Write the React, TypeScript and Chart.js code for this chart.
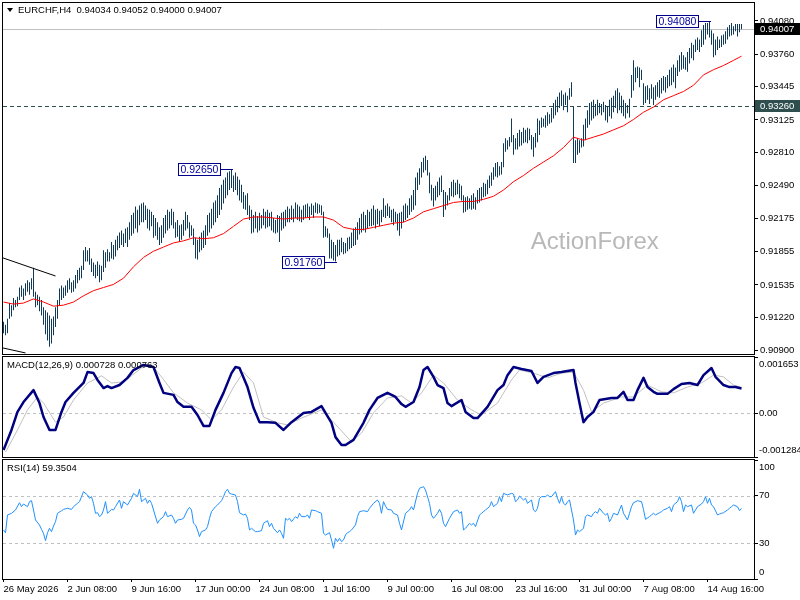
import React, { useEffect, useRef } from "react";
import { Chart, registerables } from "chart.js";

Chart.register(...registerables);

// ---------------- DATA ----------------
const HEADER_TEXT = "EURCHF,H4  0.94034 0.94052 0.94000 0.94007";
const MACD_TITLE = "MACD(12,26,9) 0.000728 0.000763";
const RSI_TITLE = "RSI(14) 59.3504";
const WATERMARK = "ActionForex";

// H4 bars, index 0 = 26 May 2026 00:00
const BAR_HIGHS = [
  0.9118, 0.9115, 0.9121, 0.9136, 0.9134, 0.9141, 0.9139, 0.9142, 0.9151, 0.9153,
  0.9150, 0.9155, 0.9158, 0.9156, 0.9160, 0.9170, 0.9147, 0.9144, 0.9142, 0.9139,
  0.9132, 0.9129, 0.9127, 0.9124, 0.9121, 0.9123, 0.9132, 0.9139, 0.9150, 0.9153,
  0.9151, 0.9153, 0.9158, 0.9160, 0.9156, 0.9158, 0.9163, 0.9168, 0.9170, 0.9172,
  0.9187, 0.9190, 0.9187, 0.9189, 0.9179, 0.9175, 0.9173, 0.9176, 0.9173, 0.9172,
  0.9187, 0.9185, 0.9188, 0.9185, 0.9195, 0.9192, 0.9197, 0.9201, 0.9204, 0.9206,
  0.9203, 0.9208, 0.9209, 0.9214, 0.9221, 0.9223, 0.9229, 0.9226, 0.9230, 0.9232,
  0.9233, 0.9230, 0.9227, 0.9226, 0.9224, 0.9221, 0.9218, 0.9214, 0.9209, 0.9211,
  0.9218, 0.9221, 0.9226, 0.9224, 0.9227, 0.9224, 0.9214, 0.9216, 0.9211, 0.9212,
  0.9216, 0.9224, 0.9221, 0.9214, 0.9211, 0.9208, 0.9199, 0.9197, 0.9200, 0.9204,
  0.9206, 0.9211, 0.9221, 0.9223, 0.9227, 0.9233, 0.9235, 0.9240, 0.9247, 0.9250,
  0.9255, 0.9257, 0.9262, 0.9263, 0.9265, 0.9259, 0.9262, 0.9258, 0.9255, 0.9250,
  0.9243, 0.9240, 0.9242, 0.9230, 0.9226, 0.9221, 0.9224, 0.9220, 0.9223, 0.9221,
  0.9227, 0.9224, 0.9226, 0.9223, 0.9224, 0.9218, 0.9216, 0.9221, 0.9220, 0.9223,
  0.9224, 0.9226, 0.9229, 0.9227, 0.9230, 0.9227, 0.9233, 0.9231, 0.9229, 0.9226,
  0.9230, 0.9231, 0.9232, 0.9229, 0.9232, 0.9230, 0.9233, 0.9232, 0.9231, 0.9230,
  0.9224, 0.9210, 0.9208, 0.9203, 0.9197, 0.9195, 0.9192, 0.9197, 0.9197, 0.9199,
  0.9195, 0.9194, 0.9199, 0.9200, 0.9204, 0.9208, 0.9209, 0.9214, 0.9218, 0.9222,
  0.9224, 0.9221, 0.9226, 0.9224, 0.9227, 0.9230, 0.9226, 0.9227, 0.9225, 0.9226,
  0.9237, 0.9230, 0.9232, 0.9229, 0.9226, 0.9227, 0.9224, 0.9222, 0.9223, 0.9224,
  0.9230, 0.9232, 0.9230, 0.9237, 0.9240, 0.9245, 0.9257, 0.9262, 0.9266, 0.9272,
  0.9276, 0.9278, 0.9274, 0.9262, 0.9250, 0.9247, 0.9249, 0.9253, 0.9257, 0.9259,
  0.9245, 0.9243, 0.9240, 0.9247, 0.9253, 0.9255, 0.9252, 0.9255, 0.9251, 0.9249,
  0.9240, 0.9238, 0.9239, 0.9237, 0.9240, 0.9242, 0.9238, 0.9245, 0.9247, 0.9248,
  0.9252, 0.9251, 0.9255, 0.9259, 0.9262, 0.9267, 0.9271, 0.9272, 0.9268, 0.9272,
  0.9290, 0.9295, 0.9293, 0.9296, 0.9314, 0.9298, 0.9295, 0.9300, 0.9303, 0.9301,
  0.9305, 0.9303, 0.9305, 0.9304, 0.9298, 0.9296, 0.9300, 0.9314, 0.9312, 0.9315,
  0.9314, 0.9317, 0.9320, 0.9318, 0.9324, 0.9329, 0.9332, 0.9335, 0.9339, 0.9341,
  0.9337, 0.9339, 0.9336, 0.9343, 0.9349, 0.9325, 0.9293, 0.9295, 0.9293, 0.9295,
  0.9308, 0.9314, 0.9322, 0.9329, 0.9330, 0.9332, 0.9328, 0.9332, 0.9329, 0.9328,
  0.9330, 0.9327, 0.9326, 0.9332, 0.9334, 0.9336, 0.9341, 0.9343, 0.9339, 0.9336,
  0.9332, 0.9329, 0.9327, 0.9333, 0.9356, 0.9370, 0.9363, 0.9364, 0.9363, 0.9361,
  0.9348, 0.9345, 0.9346, 0.9343, 0.9347, 0.9344, 0.9346, 0.9349, 0.9351, 0.9353,
  0.9355, 0.9354, 0.9356, 0.9361, 0.9363, 0.9366, 0.9363, 0.9370, 0.9375, 0.9378,
  0.9375, 0.9373, 0.9378, 0.9382, 0.9387, 0.9385, 0.9390, 0.9392, 0.9390, 0.9399,
  0.9404, 0.9406, 0.9406, 0.9408, 0.9399, 0.9396, 0.9390, 0.9393, 0.9390, 0.9394,
  0.9395, 0.9398, 0.9402, 0.9404, 0.9406, 0.9403, 0.9405, 0.9405, 0.9405, 0.9405,
];

const BAR_LOWS = [
  0.9107, 0.9105, 0.9107, 0.9121, 0.9123, 0.9129, 0.9132, 0.9133, 0.9139, 0.9142,
  0.9139, 0.9143, 0.9147, 0.9144, 0.9149, 0.9142, 0.9132, 0.9134, 0.9128, 0.9124,
  0.9115, 0.9106, 0.9100, 0.9094, 0.9097, 0.9105, 0.9113, 0.9121, 0.9134, 0.9139,
  0.9141, 0.9143, 0.9146, 0.9149, 0.9146, 0.9147, 0.9150, 0.9155, 0.9158, 0.9160,
  0.9168, 0.9176, 0.9176, 0.9173, 0.9166, 0.9162, 0.9160, 0.9162, 0.9156, 0.9158,
  0.9166, 0.9170, 0.9176, 0.9176, 0.9179, 0.9178, 0.9181, 0.9187, 0.9189, 0.9192,
  0.9190, 0.9194, 0.9190, 0.9197, 0.9201, 0.9203, 0.9208, 0.9204, 0.9211, 0.9214,
  0.9214, 0.9216, 0.9208, 0.9206, 0.9210, 0.9199, 0.9201, 0.9197, 0.9192, 0.9194,
  0.9199, 0.9203, 0.9206, 0.9208, 0.9211, 0.9208, 0.9199, 0.9200, 0.9195, 0.9197,
  0.9201, 0.9206, 0.9208, 0.9199, 0.9201, 0.9192, 0.9179, 0.9178, 0.9185, 0.9187,
  0.9189, 0.9192, 0.9201, 0.9204, 0.9208, 0.9211, 0.9214, 0.9218, 0.9221, 0.9226,
  0.9232, 0.9237, 0.9240, 0.9245, 0.9247, 0.9243, 0.9245, 0.9240, 0.9235, 0.9233,
  0.9227, 0.9226, 0.9221, 0.9216, 0.9203, 0.9204, 0.9208, 0.9204, 0.9206, 0.9208,
  0.9211, 0.9208, 0.9209, 0.9210, 0.9206, 0.9204, 0.9203, 0.9204, 0.9195, 0.9206,
  0.9208, 0.9210, 0.9214, 0.9214, 0.9216, 0.9214, 0.9218, 0.9216, 0.9215, 0.9214,
  0.9216, 0.9218, 0.9219, 0.9216, 0.9221, 0.9218, 0.9223, 0.9222, 0.9223, 0.9221,
  0.9199, 0.9200, 0.9199, 0.9179, 0.9179, 0.9177, 0.9176, 0.9181, 0.9182, 0.9185,
  0.9183, 0.9184, 0.9186, 0.9188, 0.9189, 0.9191, 0.9192, 0.9197, 0.9202, 0.9204,
  0.9206, 0.9204, 0.9208, 0.9210, 0.9210, 0.9211, 0.9208, 0.9212, 0.9210, 0.9214,
  0.9219, 0.9218, 0.9220, 0.9218, 0.9214, 0.9211, 0.9214, 0.9206, 0.9201, 0.9208,
  0.9214, 0.9216, 0.9218, 0.9221, 0.9224, 0.9226, 0.9230, 0.9245, 0.9250, 0.9257,
  0.9262, 0.9264, 0.9259, 0.9242, 0.9235, 0.9229, 0.9235, 0.9238, 0.9240, 0.9243,
  0.9219, 0.9226, 0.9230, 0.9235, 0.9239, 0.9238, 0.9240, 0.9241, 0.9237, 0.9235,
  0.9223, 0.9224, 0.9226, 0.9227, 0.9226, 0.9227, 0.9226, 0.9232, 0.9233, 0.9235,
  0.9238, 0.9239, 0.9241, 0.9247, 0.9249, 0.9255, 0.9258, 0.9257, 0.9259, 0.9260,
  0.9267, 0.9282, 0.9284, 0.9287, 0.9291, 0.9279, 0.9284, 0.9284, 0.9287, 0.9288,
  0.9290, 0.9291, 0.9290, 0.9293, 0.9284, 0.9277, 0.9286, 0.9291, 0.9298, 0.9305,
  0.9306, 0.9305, 0.9307, 0.9309, 0.9310, 0.9314, 0.9317, 0.9320, 0.9324, 0.9326,
  0.9322, 0.9327, 0.9320, 0.9332, 0.9335, 0.9271, 0.9271, 0.9279, 0.9281, 0.9286,
  0.9287, 0.9293, 0.9305, 0.9308, 0.9312, 0.9314, 0.9316, 0.9317, 0.9319, 0.9317,
  0.9320, 0.9312, 0.9310, 0.9316, 0.9314, 0.9320, 0.9324, 0.9319, 0.9322, 0.9319,
  0.9316, 0.9314, 0.9319, 0.9315, 0.9334, 0.9341, 0.9349, 0.9353, 0.9344, 0.9351,
  0.9327, 0.9329, 0.9332, 0.9328, 0.9333, 0.9327, 0.9332, 0.9335, 0.9334, 0.9338,
  0.9341, 0.9339, 0.9343, 0.9345, 0.9346, 0.9349, 0.9343, 0.9355, 0.9359, 0.9361,
  0.9362, 0.9361, 0.9359, 0.9367, 0.9372, 0.9370, 0.9378, 0.9380, 0.9378, 0.9383,
  0.9385, 0.9390, 0.9395, 0.9392, 0.9385, 0.9373, 0.9375, 0.9380, 0.9382, 0.9383,
  0.9385, 0.9386, 0.9390, 0.9393, 0.9394, 0.9395, 0.9398, 0.9393, 0.9397, 0.9400,
];

// Red moving average, sampled along the bars
const SMA_BARS = [
  0, 5, 10, 15, 20, 25, 30, 35, 40, 45, 50, 55, 60, 65, 70, 75, 80, 85, 90, 95,
  100, 105, 110, 115, 120, 125, 130, 135, 140, 145, 150, 155, 160, 165, 170, 175, 180, 185, 190, 195,
  200, 205, 210, 215, 220, 225, 230, 235, 240, 245, 250, 255, 260, 265, 270, 275, 280, 285, 290, 295,
  300, 305, 310, 315, 320, 325, 330, 335, 340, 345, 350, 355, 360, 365, 369,
];
const SMA_VALUES = [
  0.9137, 0.9135, 0.9136, 0.9140, 0.9137, 0.9133, 0.9134, 0.9137, 0.9143, 0.9148,
  0.9151, 0.9154, 0.9160, 0.9171, 0.9180, 0.9186, 0.9190, 0.9194, 0.9196, 0.9199,
  0.9198, 0.9199, 0.9203, 0.9210, 0.9217, 0.9219, 0.9219, 0.9218, 0.9217, 0.9218,
  0.9218, 0.9219, 0.9219, 0.9216, 0.9209, 0.9207, 0.9207, 0.9209, 0.9211, 0.9213,
  0.9214, 0.9218, 0.9224, 0.9227, 0.9230, 0.9233, 0.9234, 0.9234, 0.9236, 0.9239,
  0.9245, 0.9253, 0.9259, 0.9266, 0.9272, 0.9278, 0.9286, 0.9296, 0.9293, 0.9296,
  0.9299, 0.9303, 0.9307, 0.9313, 0.9320, 0.9325, 0.9332, 0.9336, 0.9340, 0.9346,
  0.9356, 0.9361, 0.9365, 0.9370, 0.9374,
];

const MACD_BARS = [
  0, 4, 7, 10, 15, 18, 20, 23, 26, 29, 31, 35, 40, 42, 45, 47, 50, 52, 54, 58,
  62, 65, 70, 75, 78, 80, 85, 87, 90, 94, 97, 100, 103, 106, 110, 114, 116, 118, 122, 125,
  128, 132, 136, 140, 144, 150, 154, 159, 161, 164, 166, 169, 171, 175, 180, 183, 187, 192, 196, 199,
  201, 205, 208, 210, 212, 215, 217, 220, 222, 224, 229, 231, 235, 237, 242, 247, 250, 252, 255, 259,
  264, 267, 270, 275, 279, 285, 286, 288, 290, 292, 295, 298, 304, 307, 310, 312, 315, 317, 320, 322,
  325, 327, 332, 335, 339, 343, 347, 350, 354, 356, 360, 363, 366, 369,
];
const MACD_VALUES = [
  -0.00108, -0.00049, 0.00004, 0.00033, 0.00068, 0.0003, -0.00011, -0.00049, -0.00049, 0.00004,
  0.00033, 0.0006, 0.00089, 0.00121, 0.00118, 0.00098, 0.00074, 0.0008, 0.00074, 0.00083,
  0.00104, 0.00127, 0.00142, 0.00136, 0.00089, 0.0006, 0.00054, 0.00033, 0.00019, 0.00019,
  -0.00005, -0.00037, -0.00037, 0.0001, 0.0006, 0.00118, 0.00136, 0.00133, 0.00077, 0.00016,
  -0.00026, -0.00026, -0.00028, -0.00049, -0.00026, 0.00001, 0.00004, 0.00021, 0.00001, -0.00028,
  -0.0007, -0.00093, -0.00093, -0.00078, -0.00028, 0.0001, 0.00045, 0.0006, 0.00048, 0.00027,
  0.00019, 0.00033, 0.00077, 0.00127, 0.00136, 0.00107, 0.00083, 0.00074, 0.0003, 0.00021,
  0.00039, 0.00004, -0.00014, -0.00014, 0.00019, 0.00068, 0.00083, 0.00112, 0.00136, 0.0013,
  0.00124, 0.00089, 0.00107, 0.00118, 0.00121, 0.00127, 0.00089, 0.0003, -0.00026, -0.00011,
  0.00004, 0.00039, 0.00045, 0.00045, 0.00063, 0.00039, 0.00039, 0.00068, 0.00104, 0.00077,
  0.00063, 0.00057, 0.00057, 0.00071, 0.00086, 0.00089, 0.00083, 0.00112, 0.00133, 0.00107,
  0.00083, 0.00077, 0.00077, 0.000728,
];

const SIGNAL_BARS = [
  1, 7, 12, 17, 20, 26, 30, 35, 42, 49, 54, 60, 69, 74, 79, 85, 92, 99, 104, 109,
  115, 120, 125, 130, 137, 142, 149, 159, 165, 174, 179, 185, 192, 199, 204, 209, 215, 220, 227, 234,
  239, 247, 254, 258, 265, 272, 279, 285, 290, 294, 300, 309, 315, 322, 329, 335, 342, 349, 355, 360,
  365, 369,
];
const SIGNAL_VALUES = [
  -0.00114, -0.00049, 0.0001, 0.00048, 0.0003, -0.00026, -0.00011, 0.00039, 0.00089, 0.0011,
  0.00089, 0.00092, 0.00133, 0.00142, 0.00107, 0.0006, 0.0003, 0.0001, -0.0002, 0.0001,
  0.00077, 0.00121, 0.00089, -0.00011, -0.00028, -0.00034, -0.00014, 0.0001, -0.00026, -0.00084,
  -0.00058, 0.00001, 0.00045, 0.00051, 0.0003, 0.0006, 0.00112, 0.00089, 0.00039, 0.0001,
  -0.00005, 0.0003, 0.00098, 0.00127, 0.00118, 0.00104, 0.00118, 0.00121, 0.00068, 0.00004,
  0.0003, 0.00048, 0.00048, 0.00083, 0.00063, 0.0006, 0.00077, 0.00089, 0.00112, 0.00107,
  0.00083, 0.000763,
];

const RSI_BARS = [
  0, 1, 2, 4, 6, 8, 9, 10, 12, 13, 14, 15, 16, 18, 19, 20, 21, 22, 23, 24,
  25, 26, 27, 29, 30, 32, 34, 35, 37, 38, 39, 40, 42, 43, 44, 45, 46, 47, 48, 49,
  50, 51, 52, 54, 55, 56, 58, 59, 60, 62, 64, 65, 67, 68, 69, 71, 72, 73, 74, 75,
  77, 78, 80, 81, 82, 84, 85, 86, 87, 89, 90, 92, 93, 94, 95, 96, 97, 98, 99, 101,
  102, 103, 104, 106, 107, 109, 110, 111, 112, 113, 114, 116, 117, 118, 120, 121, 122, 123, 124, 126,
  127, 129, 130, 132, 133, 134, 135, 137, 138, 139, 140, 141, 142, 143, 144, 146, 147, 148, 149, 151,
  152, 153, 154, 156, 157, 159, 160, 161, 163, 164, 165, 166, 167, 168, 169, 170, 171, 172, 173, 174,
  176, 177, 178, 180, 182, 183, 185, 187, 188, 189, 190, 191, 192, 194, 195, 197, 198, 199, 201, 203,
  204, 205, 207, 208, 210, 211, 213, 214, 215, 217, 218, 219, 220, 221, 223, 224, 225, 227, 228, 229,
  230, 231, 233, 234, 235, 236, 238, 239, 241, 243, 244, 245, 247, 248, 249, 250, 252, 254, 255, 256,
  257, 258, 260, 261, 262, 264, 265, 266, 267, 268, 269, 271, 272, 273, 274, 276, 277, 278, 279, 280,
  281, 282, 283, 284, 285, 286, 287, 288, 290, 291, 292, 294, 295, 296, 297, 298, 300, 301, 302, 303,
  304, 305, 307, 308, 309, 310, 312, 313, 314, 315, 317, 319, 320, 321, 323, 324, 325, 326, 328, 329,
  330, 332, 333, 334, 335, 337, 338, 339, 340, 341, 342, 344, 345, 346, 347, 349, 350, 351, 352, 353,
  354, 355, 357, 358, 359, 360, 362, 363, 364, 365, 367, 368, 369,
];
const RSI_VALUES = [
  41.2, 38.9, 53.8, 55.2, 58.0, 64.1, 60.8, 63.0, 60.8, 65.0, 65.8, 58.0, 49.6, 45.4, 41.7, 38.4, 32.2, 38.9, 42.6, 39.8,
  44.5, 48.2, 55.2, 57.4, 58.5, 59.4, 58.5, 60.8, 63.6, 65.0, 69.2, 73.4, 70.6, 67.8, 69.2, 63.6, 55.2, 55.7, 52.4, 53.8,
  58.0, 65.0, 55.2, 58.5, 58.0, 60.8, 66.4, 59.4, 65.0, 62.2, 67.8, 72.0, 69.2, 75.4, 65.0, 67.8, 63.6, 66.4, 63.6, 58.0,
  46.8, 49.6, 52.4, 56.6, 52.4, 53.8, 51.0, 46.8, 49.6, 50.1, 51.0, 58.0, 60.2, 58.0, 46.8, 45.4, 41.2, 35.6, 39.8, 41.2,
  44.0, 51.0, 56.6, 60.8, 62.2, 65.8, 69.2, 73.4, 75.4, 72.0, 71.4, 70.6, 65.0, 55.7, 53.8, 54.6, 51.0, 41.2, 42.6, 39.8,
  39.8, 40.6, 46.8, 49.0, 44.0, 46.8, 42.6, 38.9, 41.2, 38.4, 34.2, 51.0, 49.6, 51.0, 48.2, 52.4, 51.0, 55.2, 52.4, 52.4,
  53.8, 51.0, 58.0, 57.4, 56.6, 55.2, 38.4, 37.0, 38.9, 32.8, 25.8, 34.2, 31.4, 34.2, 31.4, 32.8, 37.0, 38.9, 39.8, 41.2,
  45.4, 52.4, 56.6, 57.4, 56.6, 59.4, 63.6, 66.4, 63.6, 55.2, 65.0, 61.3, 58.5, 58.0, 55.2, 53.8, 46.8, 41.2, 55.2, 58.0,
  60.8, 58.0, 72.0, 76.2, 77.6, 74.8, 63.6, 53.8, 51.0, 55.2, 58.5, 55.2, 46.8, 44.0, 51.0, 53.8, 56.6, 58.0, 55.2, 56.6,
  41.2, 42.6, 46.8, 45.4, 46.8, 44.0, 53.8, 55.2, 58.0, 60.8, 65.0, 60.8, 63.6, 69.2, 65.0, 72.0, 70.6, 72.0, 71.4, 65.0,
  66.4, 69.7, 66.4, 67.8, 63.6, 66.4, 58.0, 56.6, 59.4, 67.8, 69.2, 69.2, 70.6, 69.2, 69.2, 73.4, 67.8, 63.6, 69.2, 63.6,
  62.2, 65.0, 66.4, 58.0, 49.6, 37.0, 41.2, 39.8, 42.6, 52.4, 53.8, 52.4, 55.2, 56.6, 55.2, 59.4, 55.2, 53.8, 55.2, 48.2,
  51.0, 55.2, 53.8, 58.0, 62.2, 55.2, 49.6, 55.2, 60.8, 64.1, 65.8, 65.0, 58.5, 50.1, 52.4, 53.8, 55.2, 53.8, 55.7, 56.6,
  58.0, 59.4, 60.8, 56.6, 62.2, 65.0, 69.2, 65.0, 56.6, 62.2, 60.8, 62.2, 55.2, 58.0, 60.8, 63.0, 65.0, 69.2, 63.6, 67.8,
  62.2, 60.8, 53.8, 54.6, 55.2, 55.7, 58.0, 59.4, 60.8, 62.2, 60.8, 57.4, 59.35,
];

const PRICE_TICKS = [0.9408, 0.9376, 0.93445, 0.93125, 0.9281, 0.9249, 0.92175, 0.91855, 0.91535, 0.9122, 0.909];
const MACD_TICKS = [0.001653, 0, -0.001284];
const MACD_TICK_LABELS = ["0.001653", "0.00", "-0.001284"];
const RSI_TICKS = [100, 70, 30, 0];
const RSI_LEVELS = [70, 30];

const X_TICK_BARS = [0, 32, 64, 96, 128, 160, 192, 224, 256, 288, 320, 352];
const X_TICK_LABELS = [
  "26 May 2026", "2 Jun 08:00", "9 Jun 16:00", "17 Jun 00:00", "24 Jun 08:00", "1 Jul 16:00",
  "9 Jul 00:00", "16 Jul 08:00", "23 Jul 16:00", "31 Jul 00:00", "7 Aug 08:00", "14 Aug 16:00",
];

const CURRENT_PRICE = 0.94007;
const LEVEL_PRICE = 0.9326;
const PEAK_BARS = [114, 166, 353];
const PEAK_PRICES = [0.9265, 0.9176, 0.9408];
const PEAK_TEXTS = ["0.92650", "0.91760", "0.94080"];
const TREND_FROM_BARS = [-0.25, -0.25];
const TREND_FROM_PRICES = [0.91795, 0.90927];
const TREND_TO_BARS = [26, 11];
const TREND_TO_PRICES = [0.91621, 0.90879];

// ---------------- STYLE ----------------
const FAMILY = '"Liberation Sans", Arial, sans-serif';
const FS = 9.5;
const f = (s: number) => `${s}px ${FAMILY}`;
const X_MIN = -0.25;
const X_MAX = 375.25;
const AXIS_W = 46;

function hiddenX(): any {
  return { type: "linear", min: X_MIN, max: X_MAX, offset: false, display: false, grid: { offset: false } };
}

function drawFrame(chart: any) {
  const { ctx, chartArea: a } = chart;
  ctx.save();
  ctx.strokeStyle = "#000";
  ctx.lineWidth = 1;
  ctx.strokeRect(a.left - 0.5, a.top - 0.5, a.right - a.left + 1, a.bottom - a.top + 1);
  ctx.restore();
}

function drawTitle(chart: any, text: string, y: number, triangle: boolean) {
  const { ctx } = chart;
  ctx.save();
  let x = 7;
  if (triangle) {
    ctx.fillStyle = "#000";
    ctx.beginPath();
    ctx.moveTo(7, y - 2);
    ctx.lineTo(13, y - 2);
    ctx.lineTo(10, y + 2);
    ctx.closePath();
    ctx.fill();
    x = 18;
  }
  ctx.fillStyle = "#000";
  ctx.font = f(FS);
  ctx.textAlign = "left";
  ctx.textBaseline = "middle";
  ctx.fillText(text, x, y);
  ctx.restore();
}

function drawHLine(chart: any, scaleId: string, value: number, color: string, dash: number[]) {
  const { ctx, chartArea: a } = chart;
  const y = Math.round(chart.scales[scaleId].getPixelForValue(value)) + 0.5;
  ctx.save();
  ctx.strokeStyle = color;
  ctx.lineWidth = 1;
  ctx.setLineDash(dash);
  ctx.beginPath();
  ctx.moveTo(a.left, y);
  ctx.lineTo(a.right, y);
  ctx.stroke();
  ctx.restore();
}

function drawSideLabels(chart: any, values: number[], labels: string[]) {
  const { ctx, chartArea: a } = chart;
  const ys = chart.scales.y;
  ctx.save();
  ctx.fillStyle = "#000";
  ctx.font = f(FS);
  ctx.textAlign = "left";
  ctx.textBaseline = "middle";
  values.forEach((v, i) => {
    let y = ys.getPixelForValue(v);
    y = Math.max(a.top + 7, Math.min(a.bottom - 7, y));
    ctx.fillText(labels[i], a.right + 5, y);
  });
  ctx.restore();
}

function priceTag(chart: any, value: number, text: string, bg: string) {
  const { ctx, chartArea: a } = chart;
  const y = Math.round(chart.scales.y.getPixelForValue(value));
  ctx.save();
  ctx.fillStyle = bg;
  ctx.fillRect(a.right + 1, y - 6, 46, 12);
  ctx.fillStyle = "#fff";
  ctx.font = f(FS);
  ctx.textAlign = "left";
  ctx.textBaseline = "middle";
  ctx.fillText(text, a.right + 6, y + 0.5);
  ctx.restore();
}

const mainDecor = {
  id: "mainDecor",
  beforeDatasetsDraw(chart: any) {
    const { ctx, chartArea: a } = chart;
    ctx.save();
    ctx.font = f(24);
    ctx.fillStyle = "#b8b8b8";
    ctx.textAlign = "center";
    ctx.textBaseline = "middle";
    ctx.fillText(WATERMARK, a.left + (a.right - a.left) * 0.788, a.top + (a.bottom - a.top) * 0.682);
    ctx.restore();
    drawHLine(chart, "y", CURRENT_PRICE, "#c0c0c0", []);
    drawHLine(chart, "y", LEVEL_PRICE, "#2f4f4f", [4, 3]);
  },
  afterDraw(chart: any) {
    const { ctx, chartArea: a, scales } = chart;
    const xs = scales.x;
    const ys = scales.y;
    drawFrame(chart);
    drawTitle(chart, HEADER_TEXT, 10, true);
    ctx.save();
    ctx.beginPath();
    ctx.rect(a.left, a.top, a.right - a.left, a.bottom - a.top);
    ctx.clip();
    ctx.strokeStyle = "#000";
    ctx.lineWidth = 1;
    TREND_FROM_BARS.forEach((b, i) => {
      ctx.beginPath();
      ctx.moveTo(xs.getPixelForValue(b), ys.getPixelForValue(TREND_FROM_PRICES[i]));
      ctx.lineTo(xs.getPixelForValue(TREND_TO_BARS[i]), ys.getPixelForValue(TREND_TO_PRICES[i]));
      ctx.stroke();
    });
    ctx.restore();
    ctx.save();
    ctx.font = f(10.5);
    PEAK_BARS.forEach((b, i) => {
      const x = Math.round(xs.getPixelForValue(b));
      const y = Math.round(ys.getPixelForValue(PEAK_PRICES[i]));
      const w = Math.round(ctx.measureText(PEAK_TEXTS[i]).width) + 4;
      const bx = x - 12 - w;
      ctx.strokeStyle = "#00008b";
      ctx.lineWidth = 1;
      ctx.beginPath();
      ctx.moveTo(bx + w, y + 0.5);
      ctx.lineTo(x + 1, y + 0.5);
      ctx.stroke();
      ctx.fillStyle = "#fff";
      ctx.fillRect(bx, y - 6, w, 13);
      ctx.strokeRect(bx + 0.5, y - 5.5, w, 12);
      ctx.fillStyle = "#0000a0";
      ctx.textAlign = "left";
      ctx.textBaseline = "middle";
      ctx.fillText(PEAK_TEXTS[i], bx + 2.5, y + 1);
    });
    ctx.restore();
    priceTag(chart, CURRENT_PRICE, CURRENT_PRICE.toFixed(5), "#000");
    priceTag(chart, LEVEL_PRICE, LEVEL_PRICE.toFixed(5), "#2f4f4f");
  },
};

const macdDecor = {
  id: "macdDecor",
  beforeDatasetsDraw(chart: any) {
    drawHLine(chart, "y", 0, "#c0c0c0", [3, 3]);
  },
  afterDraw(chart: any) {
    drawFrame(chart);
    drawTitle(chart, MACD_TITLE, 9, false);
    drawSideLabels(chart, MACD_TICKS, MACD_TICK_LABELS);
  },
};

const rsiDecor = {
  id: "rsiDecor",
  beforeDatasetsDraw(chart: any) {
    RSI_LEVELS.forEach((l) => drawHLine(chart, "y", l, "#c0c0c0", [3, 3]));
  },
  afterDraw(chart: any) {
    drawFrame(chart);
    drawTitle(chart, RSI_TITLE, 10, false);
    drawSideLabels(chart, RSI_TICKS, RSI_TICKS.map((v) => String(v)));
  },
};

function baseOptions(padding: any): any {
  return {
    responsive: false,
    animation: false,
    events: [],
    layout: { padding },
    plugins: { legend: { display: false }, tooltip: { enabled: false } },
  };
}

function sideAxis(min: number, max: number, ticks: number[], showLabels: boolean): any {
  return {
    type: "linear",
    position: "right",
    min,
    max,
    afterFit: (s: any) => {
      s.width = AXIS_W;
      s.paddingTop = 0;
      s.paddingBottom = 0;
    },
    afterBuildTicks: (s: any) => {
      s.ticks = ticks.map((v) => ({ value: v }));
    },
    ticks: {
      display: showLabels,
      autoSkip: false,
      padding: 2,
      color: "#000",
      font: { family: FAMILY, size: FS },
      callback: (v: any) => Number(v).toFixed(5),
    },
    grid: { drawOnChartArea: false, drawTicks: true, tickLength: 4, color: "#000" },
    border: { display: false },
  };
}

export default function App() {
  const mainRef = useRef<HTMLCanvasElement>(null);
  const macdRef = useRef<HTMLCanvasElement>(null);
  const rsiRef = useRef<HTMLCanvasElement>(null);

  useEffect(() => {
    const main = new Chart(mainRef.current as HTMLCanvasElement, {
      type: "bar",
      data: {
        datasets: [
          {
            type: "line",
            data: SMA_BARS.map((b, i) => ({ x: b, y: SMA_VALUES[i] })),
            borderColor: "#ff0000",
            borderWidth: 1,
            pointRadius: 0,
            tension: 0,
            order: 1,
          } as any,
          {
            type: "bar",
            data: BAR_HIGHS.map((h, i) => ({ x: i, y: [BAR_LOWS[i], h] })),
            backgroundColor: "#0f3a5a",
            borderWidth: 0,
            inflateAmount: 0,
            barThickness: 1,
            grouped: false,
            order: 2,
          } as any,
        ],
      },
      options: {
        ...baseOptions({ left: 3, right: 0, top: 3, bottom: 2 }),
        scales: {
          x: hiddenX(),
          y: sideAxis(0.90869, 0.94253, PRICE_TICKS, true),
        },
      },
      plugins: [mainDecor],
    } as any);

    const macd = new Chart(macdRef.current as HTMLCanvasElement, {
      type: "line",
      data: {
        datasets: [
          {
            data: MACD_BARS.map((b, i) => ({ x: b, y: MACD_VALUES[i] })),
            borderColor: "#000080",
            borderWidth: 2.5,
            borderJoinStyle: "round",
            pointRadius: 0,
            tension: 0,
            order: 1,
          },
          {
            data: SIGNAL_BARS.map((b, i) => ({ x: b, y: SIGNAL_VALUES[i] })),
            borderColor: "#c0c0c0",
            borderWidth: 1,
            pointRadius: 0,
            tension: 0,
            order: 2,
          },
        ],
      },
      options: {
        ...baseOptions({ left: 3, right: 0, top: 1, bottom: 1 }),
        scales: {
          x: hiddenX(),
          y: sideAxis(-0.001284, 0.001653, MACD_TICKS, false),
        },
      },
      plugins: [macdDecor],
    } as any);

    const rsi = new Chart(rsiRef.current as HTMLCanvasElement, {
      type: "line",
      data: {
        datasets: [
          {
            data: RSI_BARS.map((b, i) => ({ x: b, y: RSI_VALUES[i] })),
            borderColor: "#1e90ff",
            borderWidth: 1,
            pointRadius: 0,
            tension: 0,
          },
        ],
      },
      options: {
        ...baseOptions({ left: 3, right: 0, top: 2, bottom: 0 }),
        scales: {
          x: {
            type: "linear",
            min: X_MIN,
            max: X_MAX,
            offset: false,
            position: "bottom",
            afterFit: (s: any) => {
              s.height = 21;
              s.paddingLeft = 0;
              s.paddingRight = 0;
            },
            afterBuildTicks: (s: any) => {
              s.ticks = X_TICK_BARS.map((v) => ({ value: v }));
            },
            ticks: {
              autoSkip: false,
              maxRotation: 0,
              minRotation: 0,
              align: "start",
              padding: 2,
              color: "#000",
              font: { family: FAMILY, size: FS },
              callback: (_v: any, i: number) => X_TICK_LABELS[i] ?? "",
            },
            grid: { drawOnChartArea: false, drawTicks: true, tickLength: 3, color: "#000", offset: false },
            border: { display: false },
          },
          y: sideAxis(0, 100, RSI_TICKS, false),
        },
      },
      plugins: [rsiDecor],
    } as any);

    return () => {
      main.destroy();
      macd.destroy();
      rsi.destroy();
    };
  }, []);

  const cv = { display: "block" } as React.CSSProperties;
  return (
    <div style={{ position: "fixed", left: 0, top: 0, width: 800, height: 600, background: "#fff", overflow: "hidden" }}>
      <div style={{ position: "absolute", left: 0, top: 0 }}>
        <canvas ref={mainRef} width={800} height={356} style={cv} />
      </div>
      <div style={{ position: "absolute", left: 0, top: 356 }}>
        <canvas ref={macdRef} width={800} height={102} style={cv} />
      </div>
      <div style={{ position: "absolute", left: 0, top: 458 }}>
        <canvas ref={rsiRef} width={800} height={142} style={cv} />
      </div>
    </div>
  );
}
